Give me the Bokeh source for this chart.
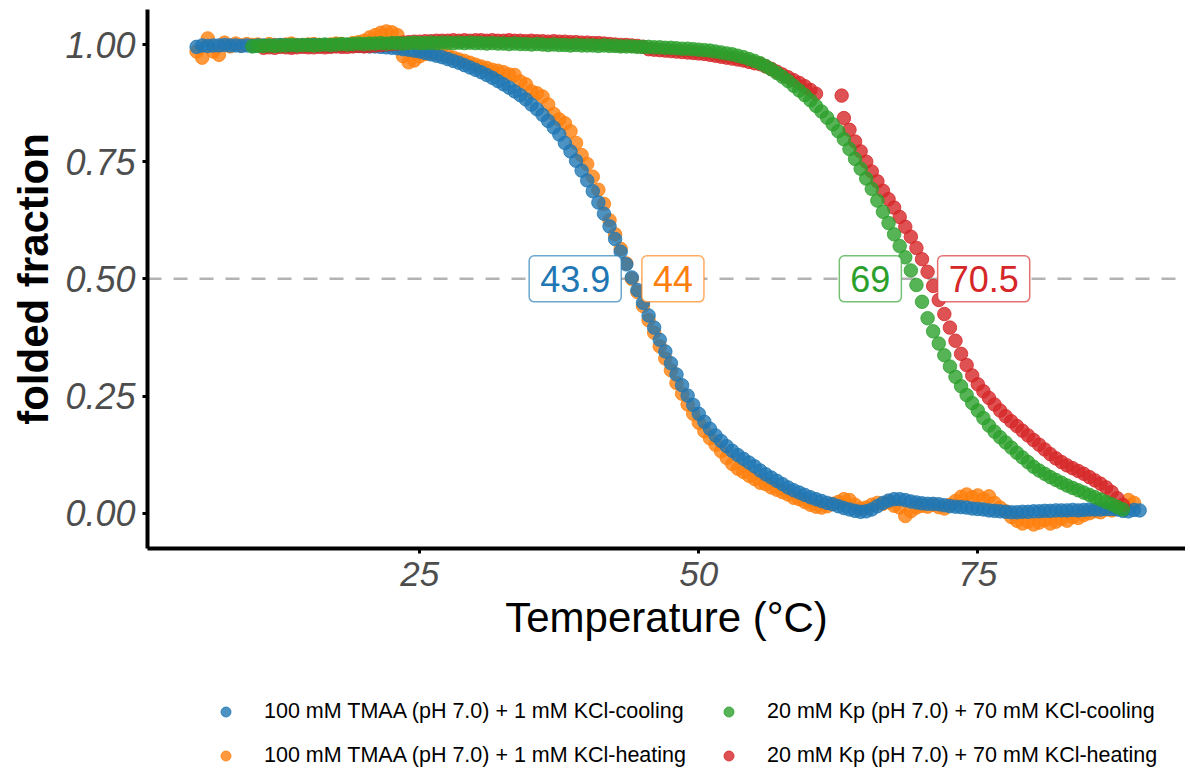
import numpy as np
from bokeh.plotting import figure
from bokeh.layouts import column
from bokeh.models import (Range1d, FixedTicker, PrintfTickFormatter, Span, Label,
                          Legend, LegendItem)
from bokeh.embed import file_html
from bokeh.resources import INLINE

# ---------------- data ----------------
series_names = [
    "100 mM TMAA (pH 7.0) + 1 mM KCl-cooling",
    "100 mM TMAA (pH 7.0) + 1 mM KCl-heating",
    "20 mM Kp (pH 7.0) + 70 mM KCl-cooling",
    "20 mM Kp (pH 7.0) + 70 mM KCl-heating",
]
series_colors = ["#1f77b4", "#ff7f0e", "#2ca02c", "#d62728"]
tm_values = [43.9, 44.0, 69.0, 70.5]
tm_labels = ["43.9", "44", "69", "70.5"]

x_ticks = [25, 50, 75]
y_ticks = [0.0, 0.25, 0.50, 0.75, 1.0]

# temperatures (°C) of the readings
temp_tmaa_cool = np.arange(5.0, 90.0, 0.5)
temp_tmaa_heat = np.arange(5.0, 89.5, 0.5)
temp_kp_cool = np.arange(10.0, 88.5, 0.5)
temp_kp_heat = np.concatenate([np.arange(11.0, 61.0, 0.5), [62.8], np.arange(63.0, 88.5, 0.5)])

frac_tmaa_cool = [
    0.995, 0.998, 0.997, 0.998, 0.998, 0.999, 0.998, 0.998, 0.997, 0.998,
    0.997, 0.998, 0.998, 0.997, 0.998, 0.999, 0.998, 0.997, 0.998, 0.998,
    0.998, 0.999, 0.998, 0.998, 0.997, 0.998, 0.998, 0.999, 0.998, 0.997,
    0.997, 0.996, 0.996, 0.995, 0.994, 0.993, 0.992, 0.990, 0.989, 0.987,
    0.985, 0.982, 0.979, 0.976, 0.973, 0.969, 0.965, 0.961, 0.956, 0.951,
    0.946, 0.941, 0.935, 0.929, 0.922, 0.915, 0.908, 0.900, 0.892, 0.883,
    0.872, 0.862, 0.850, 0.837, 0.823, 0.808, 0.790, 0.772, 0.752, 0.731,
    0.710, 0.687, 0.663, 0.639, 0.612, 0.585, 0.558, 0.531, 0.503, 0.476,
    0.449, 0.422, 0.396, 0.370, 0.345, 0.320, 0.296, 0.273, 0.251, 0.231,
    0.212, 0.195, 0.180, 0.166, 0.154, 0.143, 0.133, 0.124, 0.116, 0.108,
    0.100, 0.091, 0.083, 0.076, 0.069, 0.062, 0.055, 0.049, 0.044, 0.039,
    0.034, 0.030, 0.026, 0.022, 0.019, 0.015, 0.011, 0.008, 0.005, 0.003,
    0.004, 0.008, 0.015, 0.022, 0.027, 0.030, 0.030, 0.028, 0.025, 0.023,
    0.021, 0.020, 0.020, 0.019, 0.017, 0.015, 0.014, 0.013, 0.012, 0.010,
    0.009, 0.008, 0.006, 0.005, 0.004, 0.003, 0.002, 0.002, 0.003, 0.003,
    0.004, 0.004, 0.005, 0.005, 0.006, 0.006, 0.006, 0.007, 0.006, 0.007,
    0.008, 0.008, 0.008, 0.009, 0.009, 0.008, 0.005, 0.004, 0.007, 0.006,
]

frac_tmaa_heat = [
    0.985, 0.972, 1.013, 0.985, 0.978, 1.004, 0.996, 1.002, 0.998, 1.001,
    0.999, 1.000, 0.997, 1.001, 0.999, 0.998, 1.000, 1.002, 0.999, 0.998,
    1.000, 1.001, 0.999, 0.998, 1.000, 1.002, 1.001, 0.999, 1.003, 1.005,
    1.008, 1.015, 1.020, 1.025, 1.028, 1.026, 1.020, 0.975, 0.962, 0.966,
    0.975, 0.980, 0.982, 0.981, 0.978, 0.976, 0.972, 0.968, 0.965, 0.961,
    0.957, 0.953, 0.950, 0.946, 0.944, 0.941, 0.936, 0.935, 0.921, 0.915,
    0.900, 0.896, 0.889, 0.872, 0.852, 0.840, 0.832, 0.815, 0.790, 0.764,
    0.745, 0.718, 0.690, 0.660, 0.625, 0.595, 0.564, 0.533, 0.500, 0.472,
    0.442, 0.412, 0.385, 0.356, 0.330, 0.305, 0.278, 0.255, 0.232, 0.212,
    0.193, 0.175, 0.160, 0.146, 0.132, 0.118, 0.105, 0.095, 0.088, 0.080,
    0.073, 0.065, 0.062, 0.055, 0.050, 0.045, 0.040, 0.033, 0.030, 0.024,
    0.018, 0.014, 0.012, 0.015, 0.020, 0.024, 0.030, 0.028, 0.018, 0.010,
    0.012, 0.018, 0.022, 0.020, 0.024, 0.016, 0.012, -0.006, 0.004, 0.012,
    0.016, 0.014, 0.018, 0.013, 0.010, 0.018, 0.026, 0.035, 0.040, 0.034,
    0.038, 0.030, 0.036, 0.022, 0.012, 0.004, -0.008, -0.016, -0.022, -0.018,
    -0.024, -0.020, -0.015, -0.022, -0.018, -0.012, -0.016, -0.008, -0.010, -0.004,
    0.000, 0.004, 0.002, 0.008, 0.006, 0.012, 0.010, 0.028, 0.022,
]

frac_kp_cool = [
    0.996, 0.997, 0.997, 0.998, 0.997, 0.998, 0.998, 0.999, 0.998, 0.999,
    0.999, 0.998, 0.999, 1.000, 0.999, 1.000, 1.001, 1.000, 1.001, 1.002,
    1.001, 1.002, 1.002, 1.003, 1.002, 1.003, 1.003, 1.002, 1.003, 1.004,
    1.003, 1.003, 1.004, 1.003, 1.004, 1.004, 1.003, 1.004, 1.003, 1.004,
    1.003, 1.003, 1.002, 1.003, 1.002, 1.002, 1.001, 1.002, 1.001, 1.001,
    1.000, 1.001, 1.000, 0.999, 1.000, 0.999, 0.999, 0.998, 0.999, 0.998,
    0.998, 0.998, 0.997, 0.998, 0.997, 0.997, 0.996, 0.996, 0.996, 0.995,
    0.995, 0.995, 0.994, 0.994, 0.993, 0.993, 0.992, 0.991, 0.991, 0.990,
    0.989, 0.988, 0.987, 0.985, 0.983, 0.981, 0.979, 0.976, 0.973, 0.969,
    0.965, 0.960, 0.954, 0.947, 0.939, 0.931, 0.922, 0.912, 0.902, 0.892,
    0.881, 0.869, 0.857, 0.844, 0.830, 0.815, 0.798, 0.777, 0.756, 0.735,
    0.714, 0.692, 0.667, 0.643, 0.619, 0.595, 0.570, 0.546, 0.518, 0.487,
    0.451, 0.416, 0.388, 0.362, 0.337, 0.313, 0.291, 0.271, 0.252, 0.235,
    0.219, 0.203, 0.187, 0.174, 0.162, 0.151, 0.140, 0.129, 0.119, 0.109,
    0.099, 0.091, 0.084, 0.077, 0.071, 0.065, 0.059, 0.054, 0.049, 0.044,
    0.039, 0.034, 0.029, 0.024, 0.019, 0.013, 0.008,
]

frac_kp_heat = [
    0.993, 0.994, 0.993, 0.995, 0.994, 0.993, 0.994, 0.995, 0.994, 0.994,
    0.995, 0.994, 0.995, 0.996, 0.995, 0.995, 0.996, 0.997, 0.996, 0.997,
    0.998, 0.999, 1.000, 1.001, 1.002,
    1.004, 1.005, 1.006, 1.006, 1.007, 1.007, 1.008, 1.008, 1.008, 1.009,
    1.008, 1.009, 1.008, 1.009, 1.009, 1.008, 1.009, 1.008, 1.008, 1.009,
    1.008, 1.008, 1.007, 1.008, 1.007, 1.007, 1.006, 1.007, 1.006, 1.006,
    1.005, 1.005, 1.004, 1.004, 1.003, 1.003, 1.002, 1.001, 1.000, 0.999,
    0.999, 0.998, 0.997, 0.995,
    0.990, 0.989, 0.988, 0.987, 0.986, 0.985, 0.984, 0.983, 0.982, 0.981,
    0.980, 0.978, 0.976, 0.974, 0.972, 0.970, 0.968, 0.966, 0.963, 0.960,
    0.958, 0.953, 0.948, 0.942, 0.936, 0.930, 0.924, 0.918, 0.911, 0.903, 0.895,
    0.891,
    0.843, 0.818, 0.793, 0.772, 0.750, 0.729, 0.708, 0.688, 0.670, 0.652,
    0.632, 0.611, 0.590, 0.566, 0.542, 0.515, 0.485, 0.455, 0.425, 0.396,
    0.368, 0.340, 0.316, 0.294, 0.275, 0.260, 0.246, 0.232, 0.219, 0.207,
    0.196, 0.186, 0.176, 0.166, 0.156, 0.146, 0.136, 0.126, 0.117, 0.109,
    0.102, 0.096, 0.090, 0.084, 0.077, 0.070, 0.063, 0.055, 0.045, 0.032,
    0.018,
]

temps = [temp_tmaa_cool, temp_tmaa_heat, temp_kp_cool, temp_kp_heat]
fracs = [frac_tmaa_cool, frac_tmaa_heat, frac_kp_cool, frac_kp_heat]

# ---------------- main figure ----------------
FONT = "Liberation Sans"
p = figure(frame_width=1038, frame_height=539,
           x_range=Range1d(0.60, 93.61), y_range=Range1d(-0.0753, 1.0747),
           output_backend="svg", toolbar_location=None,
           min_border_left=147, min_border_right=0, min_border_top=9,
           min_border_bottom=110)
p.outline_line_color = None
p.xgrid.visible = False
p.ygrid.visible = False
p.background_fill_color = "white"
p.border_fill_color = "white"

p.add_layout(Span(location=0.5, dimension="width", line_color="#b3b3b3",
                  line_width=2.5, line_dash="14 12", level="underlay"))

POINT_SIZE = 13.5
for i in [1, 0, 3, 2]:
    p.scatter(temps[i], fracs[i], size=POINT_SIZE, marker="circle",
              fill_color=series_colors[i], line_color=series_colors[i],
              fill_alpha=0.8, line_alpha=0.8)

for i in range(4):
    cooling = i in (0, 2)
    p.add_layout(Label(
        x=tm_values[i] - 0.85 if cooling else tm_values[i] + 0.9, y=0.5,
        text=tm_labels[i], text_align="right" if cooling else "left",
        text_baseline="middle", text_font=FONT, text_font_size="36px",
        text_color=series_colors[i], background_fill_color="white",
        border_line_color=series_colors[i], border_line_alpha=0.65,
        border_line_width=1.5, padding=(11, 10), border_radius=5))

for ax in (p.xaxis[0], p.yaxis[0]):
    ax.axis_line_width = 4
    ax.axis_line_color = "black"
    ax.major_tick_line_width = 3
    ax.major_tick_line_color = "black"
    ax.major_tick_out = 5
    ax.major_tick_in = 0
    ax.minor_tick_line_color = None
    ax.major_label_text_font = FONT
    ax.major_label_text_font_style = "italic"
    ax.major_label_text_color = "#4d4d4d"
    ax.axis_label_text_font = FONT
    ax.axis_label_text_color = "black"

p.xaxis.ticker = FixedTicker(ticks=x_ticks)
p.xaxis.major_label_text_font_size = "35px"
p.xaxis.major_label_standoff = 8
p.xaxis.axis_label = "Temperature (°C)"
p.xaxis.axis_label_text_font_size = "42px"
p.xaxis.axis_label_text_font_style = "normal"
p.xaxis.axis_label_standoff = 5

p.yaxis.ticker = FixedTicker(ticks=y_ticks)
p.yaxis.formatter = PrintfTickFormatter(format="%.2f")
p.yaxis.major_label_text_font_size = "36px"
p.yaxis.major_label_standoff = 7
p.yaxis.axis_label = "folded fraction"
p.yaxis.axis_label_text_font_size = "42px"
p.yaxis.axis_label_text_font_style = "bold"
p.yaxis.axis_label_standoff = 5

# ---------------- legend strip below the plot ----------------
# the series are drawn again here only as legend keys; the view range keeps them out of sight
pleg = figure(width=1185, height=115, x_range=Range1d(-2, -1), y_range=Range1d(-2, -1),
              output_backend="svg", toolbar_location=None, min_border=0,
              x_axis_type=None, y_axis_type=None)
pleg.outline_line_color = None
pleg.background_fill_color = "white"
pleg.border_fill_color = "white"

keys = [pleg.scatter(temps[k], fracs[k], size=POINT_SIZE, marker="circle",
                     fill_color=series_colors[k], line_color=series_colors[k],
                     fill_alpha=0.8, line_alpha=0.8) for k in range(4)]

def add_legend(idx, xloc):
    pleg.add_layout(Legend(
        items=[LegendItem(label=series_names[k], renderers=[keys[k]]) for k in idx],
        location=(xloc, 5), orientation="vertical",
        glyph_width=25, glyph_height=25, label_height=25, spacing=19,
        label_standoff=26, padding=0, margin=0,
        border_line_alpha=0, background_fill_alpha=0,
        label_text_font=FONT, label_text_font_size="21.5px",
        label_text_color="black"))

add_legend([0, 1], 66)
add_legend([2, 3], 569)

open("out.html", "w").write(file_html(column(p, pleg), INLINE))
